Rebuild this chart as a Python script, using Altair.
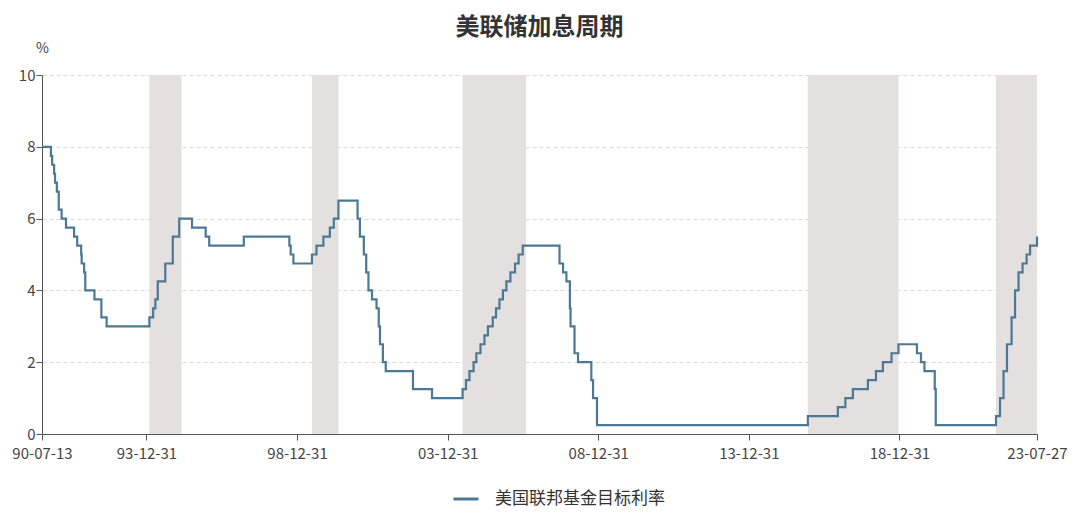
import altair as alt
import pandas as pd

# Fed funds target rate (change dates and levels, %)
dates = [
    "1990-07-13", "1990-10-29", "1990-11-13", "1990-12-07", "1990-12-18",
    "1991-01-09", "1991-02-01", "1991-03-08", "1991-04-30", "1991-08-06",
    "1991-09-13", "1991-10-31", "1991-11-06", "1991-12-06", "1991-12-20",
    "1992-04-09", "1992-07-02", "1992-09-04", "1994-02-04", "1994-03-22",
    "1994-04-18", "1994-05-17", "1994-08-16", "1994-11-15", "1995-02-01",
    "1995-07-06", "1995-12-19", "1996-01-31", "1997-03-25", "1998-09-29",
    "1998-10-15", "1998-11-17", "1999-06-30", "1999-08-24", "1999-11-16",
    "2000-02-02", "2000-03-21", "2000-05-16", "2001-01-03", "2001-01-31",
    "2001-03-20", "2001-04-18", "2001-05-15", "2001-06-27", "2001-08-21",
    "2001-09-17", "2001-10-02", "2001-11-06", "2001-12-11", "2002-11-06",
    "2003-06-25", "2004-06-30", "2004-08-10", "2004-09-21", "2004-11-10",
    "2004-12-14", "2005-02-02", "2005-03-22", "2005-05-03", "2005-06-30",
    "2005-08-09", "2005-09-20", "2005-11-01", "2005-12-13", "2006-01-31",
    "2006-03-28", "2006-05-10", "2006-06-29", "2007-09-18", "2007-10-31",
    "2007-12-11", "2008-01-22", "2008-01-30", "2008-03-18", "2008-04-30",
    "2008-10-08", "2008-10-29", "2008-12-16", "2015-12-17", "2016-12-15",
    "2017-03-16", "2017-06-15", "2017-12-14", "2018-03-22", "2018-06-14",
    "2018-09-27", "2018-12-20", "2019-08-01", "2019-09-19", "2019-10-31",
    "2020-03-04", "2020-03-16", "2022-03-17", "2022-05-05", "2022-06-16",
    "2022-07-28", "2022-09-22", "2022-11-03", "2022-12-15", "2023-02-02",
    "2023-03-23", "2023-05-04", "2023-07-27",
]
rates = [
    8.0, 7.75, 7.5, 7.25, 7.0,
    6.75, 6.25, 6.0, 5.75, 5.5,
    5.25, 5.0, 4.75, 4.5, 4.0,
    3.75, 3.25, 3.0, 3.25, 3.5,
    3.75, 4.25, 4.75, 5.5, 6.0,
    5.75, 5.5, 5.25, 5.5, 5.25,
    5.0, 4.75, 5.0, 5.25, 5.5,
    5.75, 6.0, 6.5, 6.0, 5.5,
    5.0, 4.5, 4.0, 3.75, 3.5,
    3.0, 2.5, 2.0, 1.75, 1.25,
    1.0, 1.25, 1.5, 1.75, 2.0,
    2.25, 2.5, 2.75, 3.0, 3.25,
    3.5, 3.75, 4.0, 4.25, 4.5,
    4.75, 5.0, 5.25, 4.75, 4.5,
    4.25, 3.5, 3.0, 2.25, 2.0,
    1.5, 1.0, 0.25, 0.5, 0.75,
    1.0, 1.25, 1.5, 1.75, 2.0,
    2.25, 2.5, 2.25, 2.0, 1.75,
    1.25, 0.25, 0.5, 1.0, 1.75,
    2.5, 3.25, 4.0, 4.5, 4.75,
    5.0, 5.25, 5.5,
]

# Hiking cycles (shaded)
cycle_start = ["1994-02-04", "1999-06-30", "2004-06-30", "2015-12-16", "2022-03-17"]
cycle_end = ["1995-03-01", "2000-05-16", "2006-08-10", "2018-12-20", "2023-07-27"]

series_name = "美国联邦基金目标利率"
tick_dates = [
    (1990, 7, 13), (1993, 12, 31), (1998, 12, 31), (2003, 12, 31),
    (2008, 12, 31), (2013, 12, 31), (2018, 12, 31), (2023, 7, 27),
]

FONT = "Noto Sans CJK SC"

line_df = pd.DataFrame({"date": dates, "rate": rates, "series": series_name})
band_df = pd.DataFrame({"start": cycle_start, "end": cycle_end})

x_scale = alt.Scale(
    type="utc",
    domain=[alt.DateTime(year=1990, month=7, date=13, utc=True),
            alt.DateTime(year=2023, month=7, date=27, utc=True)],
    nice=False,
)

x_axis = alt.Axis(
    title=None,
    values=[alt.DateTime(year=y, month=m, date=d, utc=True) for y, m, d in tick_dates],
    format="%y-%m-%d",
    labelOverlap=False,
    labelBound=False,
    labelFlush=False,
    grid=False,
    domainColor="#555555",
    tickColor="#555555",
    tickSize=6,
    labelFontSize=15,
    labelColor="#444444",
    labelPadding=6,
)

bands = alt.Chart(band_df).mark_rect(color="#E4E0E0").encode(
    x=alt.X("start:T", scale=x_scale, axis=x_axis),
    x2="end:T",
)

line = alt.Chart(line_df).mark_line(interpolate="step-after", strokeWidth=2.2).encode(
    x=alt.X("date:T", scale=x_scale, axis=x_axis),
    y=alt.Y(
        "rate:Q",
        scale=alt.Scale(domain=[0, 10], nice=False),
        axis=alt.Axis(
            title="%",
            titleAngle=0,
            titleX=0,
            titleY=-20,
            titleAlign="center",
            titleBaseline="bottom",
            titleFontSize=14,
            titleFontWeight="normal",
            titleColor="#444444",
            values=[0, 2, 4, 6, 8, 10],
            grid=True,
            gridDash=[4, 3],
            gridColor="#D9D9D9",
            domainColor="#555555",
            tickColor="#555555",
            tickSize=6,
            labelFontSize=15,
            labelColor="#444444",
            labelPadding=1,
        ),
    ),
    color=alt.Color(
        "series:N",
        scale=alt.Scale(range=["#4D7894"]),
        legend=alt.Legend(
            title=None,
            orient="none",
            legendX=410,
            legendY=410,
            symbolType="stroke",
            symbolStrokeWidth=3,
            symbolSize=625,
            labelOffset=15,
            labelFontSize=17,
            labelLimit=400,
            labelColor="#333333",
            labelFont=FONT,
        ),
    ),
)

chart = (
    alt.layer(bands, line)
    .properties(
        width=995,
        height=359,
        autosize=alt.AutoSizeParams(type="none"),
        padding={"left": 34, "top": 67, "right": 35, "bottom": 74},
        title=alt.TitleParams(
            "美联储加息周期",
            anchor="middle",
            fontSize=24,
            fontWeight="bold",
            color="#333333",
            font=FONT,
            offset=1,
            limit=600,
        ),
    )
    .configure(font=FONT)
    .configure_view(stroke=None)
)

chart.save("out.html", embed_options={"renderer": "svg", "actions": False})
